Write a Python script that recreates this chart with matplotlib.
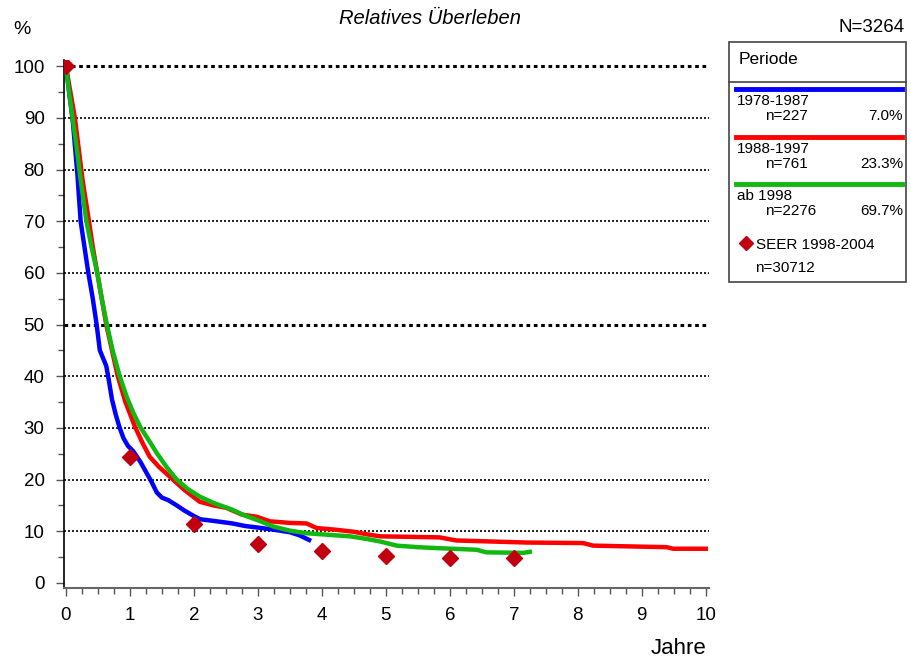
import matplotlib
matplotlib.use("Agg")
import matplotlib.pyplot as plt
from matplotlib.lines import Line2D
from matplotlib.patches import Rectangle
from matplotlib.ticker import MultipleLocator

plt.rcParams['font.family'] = ['Liberation Sans', 'DejaVu Sans']

# --- data ---
years_7887 = [0, 0.05, 0.11, 0.18, 0.23, 0.29, 0.35, 0.42, 0.48, 0.53, 0.58, 0.63, 0.66, 0.72, 0.78, 0.84,
              0.9, 0.97, 1.05, 1.16, 1.25, 1.34, 1.42, 1.5, 1.6, 1.73, 1.85, 1.99, 2.1, 2.3, 2.6, 2.8,
              3.0, 3.24, 3.5, 3.65, 3.8]
surv_7887 = [100, 95, 89, 79, 70, 65, 60, 55, 50, 45, 43.5, 42, 40, 35.5, 32.5, 30,
             28, 26.5, 25.5, 23.5, 21.5, 19.5, 17.5, 16.5, 16, 15, 14, 13, 12.3, 12, 11.5, 11,
             10.7, 10.3, 9.8, 9.2, 8.3]

years_8897 = [0, 0.07, 0.14, 0.2, 0.26, 0.36, 0.42, 0.49, 0.56, 0.63, 0.72, 0.81, 0.93, 1.08, 1.2, 1.31,
              1.45, 1.68, 1.85, 2.09, 2.3, 2.51, 2.75, 2.98, 3.19, 3.5, 3.76, 3.92, 4.2, 4.49, 4.7,
              4.91, 5.84, 6.1, 7.2, 8.08, 8.24, 9.39, 9.49, 10.0]
surv_8897 = [100, 95, 90, 84, 78, 70, 65, 60, 55, 50, 45, 40, 35, 30.2, 27, 24.4,
             22.5, 19.9, 18, 15.7, 15, 14.5, 13.2, 12.8, 11.9, 11.6, 11.5, 10.6, 10.3, 9.9, 9.4,
             9.0, 8.8, 8.2, 7.8, 7.7, 7.2, 6.9, 6.6, 6.6]

years_98 = [0, 0.05, 0.11, 0.17, 0.23, 0.32, 0.4, 0.49, 0.56, 0.64, 0.73, 0.84, 0.95, 1.05, 1.16, 1.3,
            1.42, 1.58, 1.73, 1.9, 2.09, 2.3, 2.61, 2.8, 2.98, 3.24, 3.5, 3.76, 4.1, 4.44, 4.7, 4.91,
            5.17, 5.5, 5.84, 6.42, 6.57, 7.15, 7.25]
surv_98 = [100, 95, 89.5, 84, 78, 70, 65, 60, 55, 50, 45, 40, 36, 33, 30.2, 27.5,
           25.1, 22.3, 20, 18.2, 16.7, 15.5, 14.1, 13, 12.2, 10.9, 10.1, 9.6, 9.3, 9.0, 8.5, 8.0,
           7.2, 6.9, 6.7, 6.4, 5.9, 5.8, 6.0]

seer_years = [0, 1, 2, 3, 4, 5, 6, 7]
seer_surv = [100, 24.4, 11.4, 7.5, 6.2, 5.2, 4.8, 4.8]

x_ticks = list(range(0, 11))
y_ticks = list(range(0, 101, 10))

period_labels = ["1978-1987", "1988-1997", "ab 1998"]
period_n = ["n=227", "n=761", "n=2276"]
period_pct = ["7.0%", "23.3%", "69.7%"]
period_colors = ["#0000ff", "#ff0000", "#10b810"]
seer_label = "SEER 1998-2004"
seer_n = "n=30712"
seer_color = "#c00010"

fig = plt.figure(figsize=(9.12, 6.61), dpi=100)
ax = fig.add_axes([64/912, 1-588/661, (709-64)/912, (588-60)/661])

# grid lines
for yv in y_ticks[1:]:
    lw = 2.2 if yv in (50, 100) else 1.2
    ax.axhline(yv, color="black", lw=lw, ls=(0, (1.2, 1.2)), zorder=1)

ax.plot(years_8897, surv_8897, color=period_colors[1], lw=3.2, zorder=3, solid_joinstyle='round')
ax.plot(years_7887, surv_7887, color=period_colors[0], lw=3.2, zorder=4, solid_joinstyle='round')
ax.plot(years_98, surv_98, color=period_colors[2], lw=3.2, zorder=5, solid_joinstyle='round')
ax.plot(seer_years, seer_surv, ls="none", marker="D", ms=8, color=seer_color, zorder=6)

ax.set_xlim(-0.03, 10.05)
ax.set_ylim(-1.0, 101.2)
ax.set_xticks(x_ticks)
ax.set_yticks(y_ticks)
ax.xaxis.set_minor_locator(MultipleLocator(0.25))
ax.yaxis.set_minor_locator(MultipleLocator(5))
ax.tick_params(axis="both", which="major", direction="out", length=6, width=1, color="#555555", labelsize=13.5)
ax.tick_params(axis="both", which="minor", direction="out", length=4, width=1, color="#555555")
ax.tick_params(axis="x", pad=8)
ax.tick_params(axis="y", pad=8)
for s in ("top", "right"):
    ax.spines[s].set_visible(False)
ax.spines["left"].set_color("black")
ax.spines["left"].set_linewidth(1.2)
ax.spines["bottom"].set_color("#666666")
ax.spines["bottom"].set_linewidth(1.5)

# texts
fig.text(430/912, 1-18/661, "Relatives Überleben", ha="center", va="center", fontsize=14.5, style="italic")
fig.text(22/912, 1-30/661, "%", ha="center", va="center", fontsize=14)
fig.text(905/912, 1-27/661, "N=3264", ha="right", va="center", fontsize=13.5)
fig.text(706/912, 1-648/661, "Jahre", ha="right", va="center", fontsize=16)

# legend box
def fx(px):
    return px / 912
def fy(py):
    return 1 - py / 661

fig.patches.append(Rectangle((fx(729), fy(282)), fx(906) - fx(729), fy(42) - fy(282),
                             transform=fig.transFigure, fill=False, ec="#444444", lw=1.2))
fig.lines.append(Line2D([fx(729), fx(906)], [fy(82), fy(82)], transform=fig.transFigure, color="#444444", lw=1.2))
fig.text(fx(739), fy(59), "Periode", ha="left", va="center", fontsize=12.5)

line_y = [89, 137, 184]
for i in range(3):
    ly = line_y[i]
    fig.lines.append(Line2D([fx(736), fx(902)], [fy(ly), fy(ly)], transform=fig.transFigure,
                            color=period_colors[i], lw=3.5))
    fig.text(fx(737), fy(ly + 12), period_labels[i], ha="left", va="center", fontsize=11)
    fig.text(fx(765), fy(ly + 27), period_n[i], ha="left", va="center", fontsize=11)
    fig.text(fx(903), fy(ly + 27), period_pct[i], ha="right", va="center", fontsize=11)

fig.lines.append(Line2D([fx(746)], [fy(243)], transform=fig.transFigure, ls="none",
                        marker="D", ms=7, color=seer_color))
fig.text(fx(756), fy(245), seer_label, ha="left", va="center", fontsize=11)
fig.text(fx(755), fy(268), seer_n, ha="left", va="center", fontsize=11)

fig.savefig("out.png", dpi=100)
